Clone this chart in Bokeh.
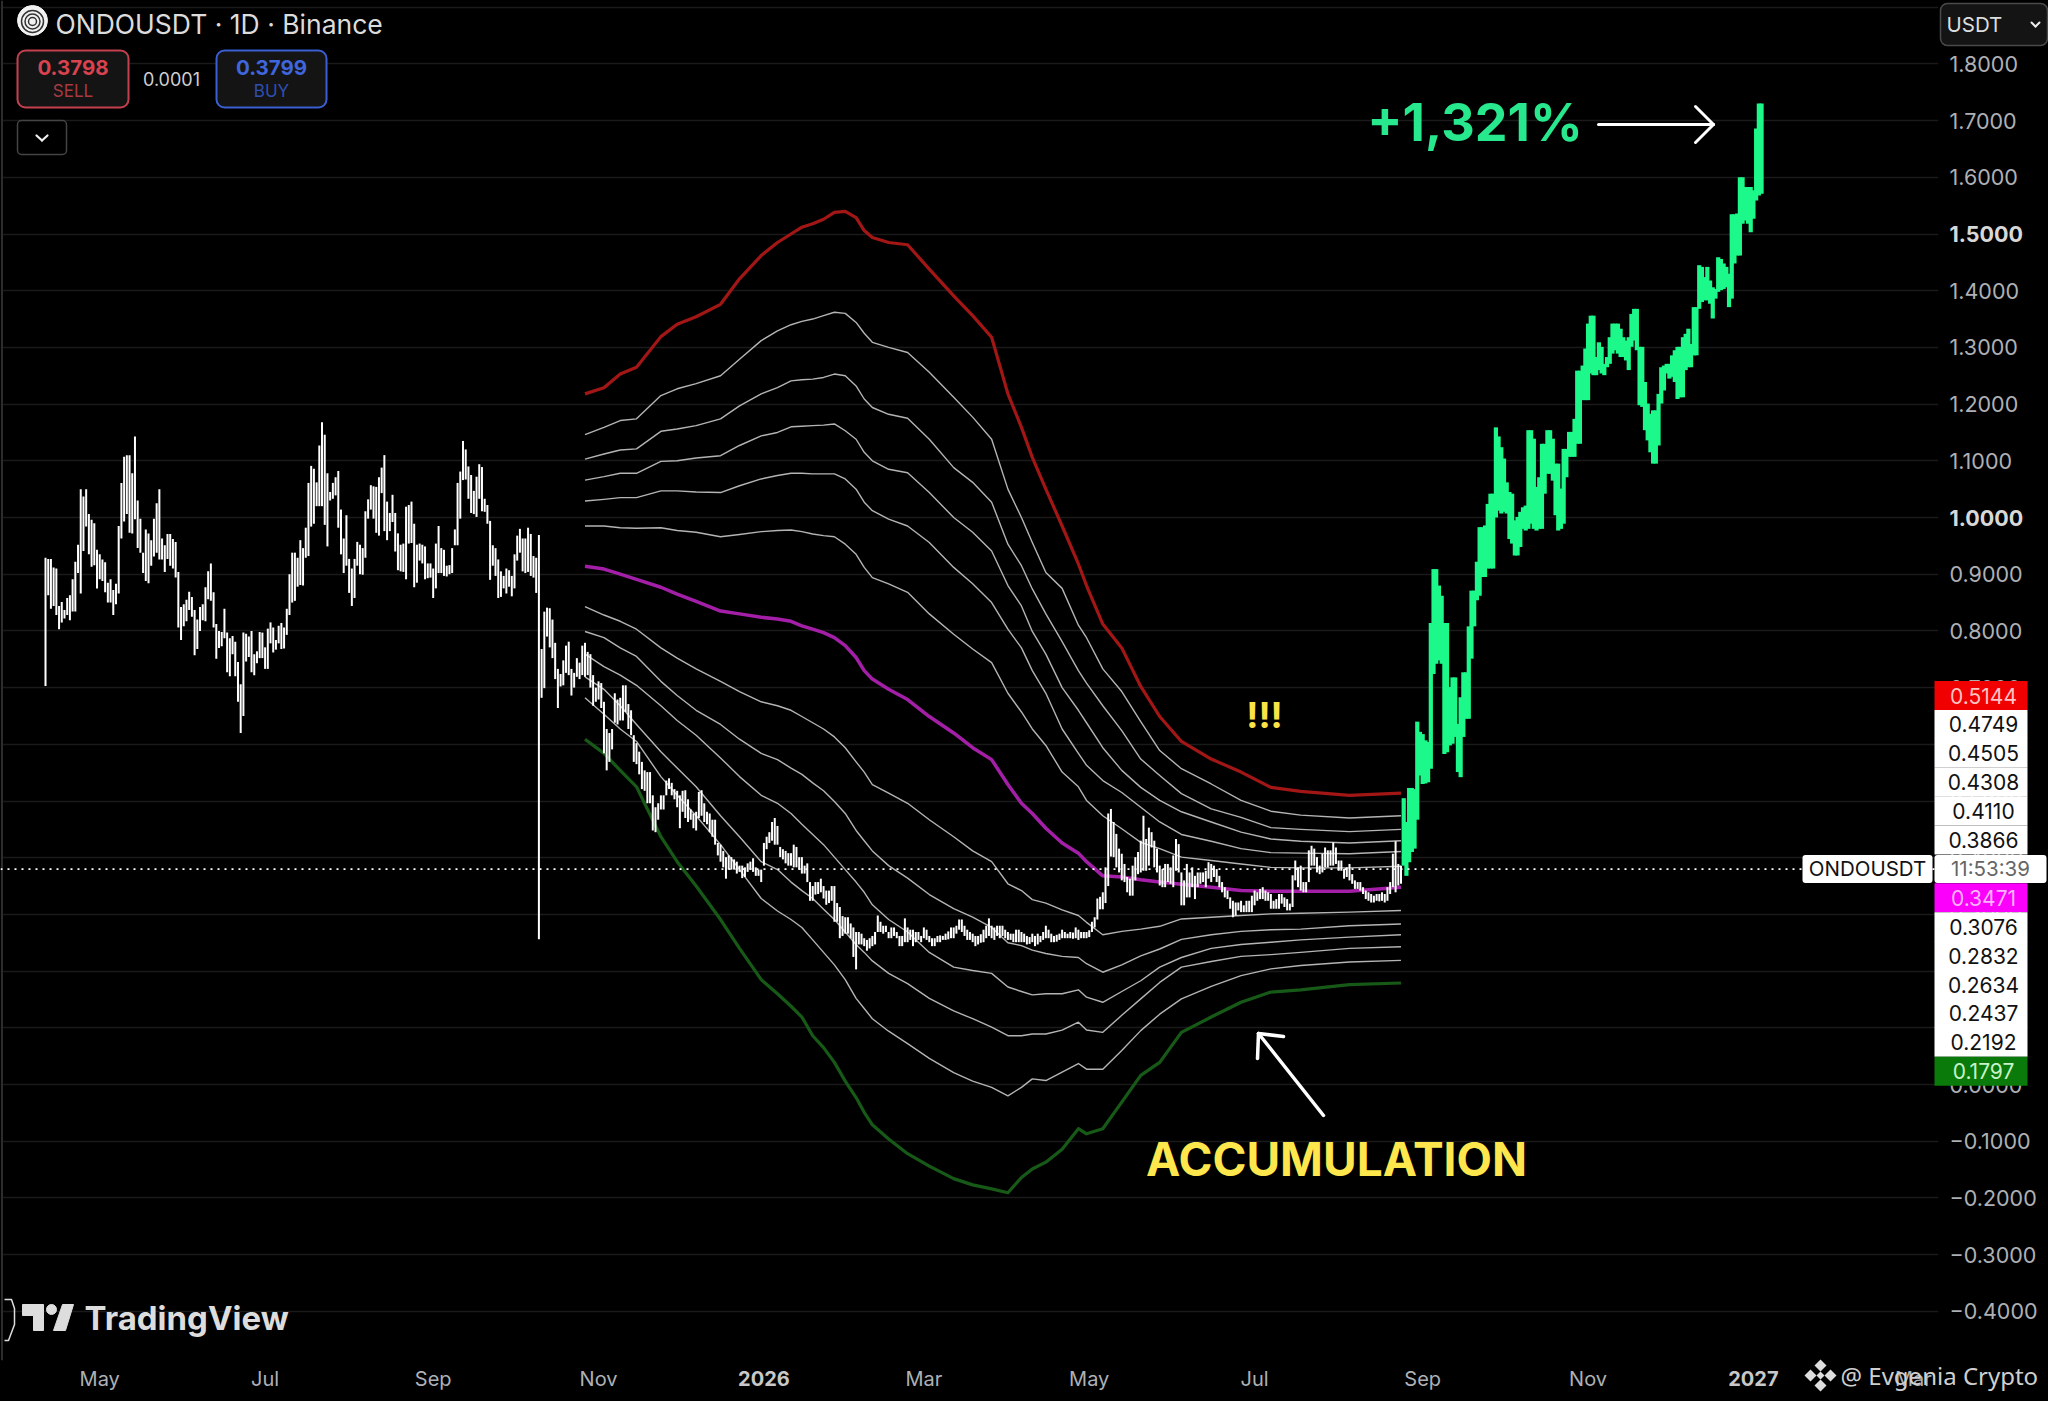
from bokeh.plotting import figure
from bokeh.embed import file_html
from bokeh.resources import INLINE
from bokeh.layouts import column
from bokeh.models import (Label, BoxAnnotation, Arrow, Span, PolyAnnotation, FixedTicker,
                          GlobalInlineStyleSheet)
import pandas as pd

# ---------- values ----------
start_date = pd.Timestamp("2025-04-11")
month_ticks = ["2025-05-01", "2025-07-01", "2025-09-01", "2025-11-01", "2026-01-01", "2026-03-01",
               "2026-05-01", "2026-07-01", "2026-09-01", "2026-11-01", "2027-01-01", "2027-03-01"]
month_labels = ["May", "Jul", "Sep", "Nov", "2026", "Mar", "May", "Jul", "Sep", "Nov", "2027", "Mar"]
bold_months = ["2026", "2027"]
price_ticks = [1.8, 1.7, 1.6, 1.5, 1.4, 1.3, 1.2, 1.1, 1.0, 0.9, 0.8, 0.7, 0.6, 0.5, 0.4, 0.3, 0.2, 0.1, 0.0,
               -0.1, -0.2, -0.3, -0.4]
grid_ticks = [1.9] + price_ticks
bold_prices = [1.5, 1.0]
last_price = 0.3798

# (high, low) of each daily bar, white part of the chart
white_bars_a = [(.929,.703),(.927,.863),(.927,.839),(.912,.844),(.910,.828),(.844,.803),(.851,.815),(.837,.822),(.858,.828),(.863,.819),
(.891,.834),(.922,.834),(.952,.902),(1.05,.866),(1.037,.941),(1.05,.984),(1.006,.935),(.996,.913),(.99,.916),(.943,.875),
(.935,.891),(.926,.888),(.921,.868),(.885,.85),(.891,.85),(.872,.828),(.883,.847),(.985,.866),(1.061,.963),(1.107,.993),
(1.11,1.006),(1.11,.973),(1.078,.972),(1.143,.997),(1.03,.946),(.998,.938),(.938,.902),(.979,.888),(.972,.884),(.96,.915),
(.998,.931),(1.025,.938),(1.05,.926),(.963,.926),(.951,.904),(.971,.927),(.971,.915),(.962,.91),(.957,.894),(.904,.806),
(.842,.784),(.847,.808),(.855,.817),(.869,.837),(.86,.825),(.837,.757),(.82,.768),(.842,.8),(.847,.819),(.877,.817),
(.905,.856),(.919,.853),(.868,.806),(.812,.751),(.8,.77),(.798,.773),(.839,.787),(.797,.727),(.787,.72),(.791,.759),
(.781,.72),(.745,.675),(.706,.62),(.797,.65),(.795,.746),(.79,.754),(.8,.727),(.759,.722),(.764,.743),(.798,.752),
(.797,.752),(.771,.733),(.804,.733),(.815,.778),(.806,.762),(.784,.767),(.809,.778),(.814,.768),(.806,.769),(.839,.793),
(.9,.828),(.938,.85),(.938,.853),(.929,.878),(.96,.881),(.946,.88),(.982,.929),(1.061,.932),(1.091,.984),(1.086,.989),
(1.062,1.02),(1.127,1.02),(1.168,1.02),(1.146,.987),(1.078,.949),(1.045,1.03),(1.061,1.033),(1.071,1.039),(1.082,.982),(1.014,.935),
(.963,.902),(1.004,.915),(.927,.867),(.91,.844),(.927,.858),(.957,.915),(.952,.9),(.946,.899),(1.011,.929),(1.032,.998),
(1.057,1.014),(1.055,.998),(1.054,.973),(1.071,.968),(1.088,1.043),(1.11,.976),(1.028,.96),(1.008,.976),(1.04,.992),(1.008,.94),
(.972,.907),(.952,.905),(.954,.904),(1.019,.891),(1.022,.954),(1.028,.955),(.989,.877),(.952,.885),(.954,.924),(.952,.919),
(.949,.891),(.919,.893),(.919,.894),(.91,.858),(.954,.875),(.985,.902),(.946,.902),(.943,.897),(.915,.896),(.916,.9),
(.946,.902),(.979,.951),(1.061,.951),(1.081,.998),(1.135,1.066),(1.12,1.067),(1.09,1.033),(1.075,1.008),(1.047,1.006),(1.072,1.001),
(1.094,1.033),(1.089,1.011),(1.033,1.01),(1.022,.989),(.994,.89),(.951,.915),(.946,.897),(.926,.858),(.905,.86),(.897,.875),
(.91,.866),(.907,.878),(.897,.861),(.935,.875),(.968,.924),(.98,.938),(.963,.905),(.963,.902),(.982,.904),(.971,.897),
(.932,.894),(.929,.867),(.969,.256),(.768,.682),(.834,.699),(.841,.79),(.84,.771),(.82,.752),(.779,.715),(.733,.664),(.724,.702)]
white_bars_b = [(.748,.704),(.774,.726),(.781,.722),(.733,.686),(.726,.7),(.752,.719),(.744,.715),(.774,.722),(.779,.719),(.763,.722),
(.759,.7),(.722,.668),(.7,.675),(.711,.679),(.708,.664),(.675,.584),(.627,.554),(.62,.569),(.627,.591),(.69,.638),
(.679,.635),(.682,.642),(.704,.642),(.704,.657),(.671,.627),(.66,.616),(.616,.569),(.602,.565),(.587,.547),(.569,.521),
(.554,.518),(.551,.496),(.551,.496),(.51,.448),(.489,.445),(.496,.467),(.51,.485),(.51,.485),(.536,.51),(.54,.521),
(.532,.51),(.521,.503),(.518,.489),(.51,.452),(.518,.481),(.519,.47),(.503,.463),(.485,.467),(.478,.452),(.481,.448),
(.516,.47),(.519,.474),(.496,.463),(.481,.459),(.478,.445),(.467,.437),(.467,.423),(.426,.404),(.423,.393),(.412,.383),
(.401,.363),(.404,.379),(.401,.379),(.397,.379),(.393,.372),(.386,.375),(.386,.364),(.383,.366),(.39,.375),(.393,.379),
(.399,.375),(.383,.368),(.379,.368),(.379,.357),(.426,.386),(.437,.415),(.445,.426),(.463,.43),(.47,.423),(.456,.423),
(.419,.401),(.415,.397),(.412,.39),(.408,.386),(.408,.386),(.423,.383),(.419,.383),(.401,.379),(.401,.372),(.386,.372),
(.39,.357),(.357,.324),(.35,.324),(.357,.335),(.357,.336),(.363,.339),(.35,.328),(.342,.317),(.342,.32),(.35,.324),
(.35,.287),(.32,.287),(.313,.258),(.297,.262),(.295,.266),(.295,.266),(.284,.258),(.277,.225),(.269,.203)]
white_bars_c = [(.269,.247),(.266,.247),(.258,.244),(.255,.236),(.258,.24),(.262,.244),(.269,.247),(.298,.269),(.287,.269),(.28,.266),
(.28,.269),(.269,.258),(.277,.258),(.277,.262),(.269,.258),(.262,.244),(.262,.244),(.293,.251),(.277,.251),(.273,.255),
(.273,.244),(.269,.251),(.269,.255),(.262,.251),(.277,.258),(.273,.255),(.262,.251),(.258,.244),(.258,.244),(.262,.251),
(.263,.251),(.262,.255),(.266,.255),(.27,.256),(.277,.258),(.277,.258),(.28,.266),(.291,.273),(.291,.269),(.28,.262),
(.273,.255),(.269,.255),(.266,.251),(.262,.244),(.262,.247),(.265,.25),(.273,.251),(.28,.258),(.293,.262),(.28,.258),
(.277,.255),(.28,.262),(.28,.258),(.28,.262),(.273,.258),(.269,.255),(.266,.255),(.266,.251),(.273,.251),(.273,.251),
(.269,.251),(.266,.251),(.262,.247),(.26,.248),(.266,.251),(.262,.244),(.266,.247),(.262,.251),(.269,.255),(.28,.258),
(.273,.258),(.266,.251),(.262,.251),(.264,.252),(.266,.255),(.273,.258),(.269,.258),(.266,.258),(.269,.258),(.268,.257),
(.277,.258),(.273,.255),(.269,.258),(.269,.258),(.269,.258),(.272,.26),(.287,.269),(.295,.277),(.328,.291),(.331,.309),
(.339,.309),(.383,.32),(.478,.35)]
white_bars_d = [(.486,.402),(.463,.401),(.442,.383),(.416,.374),(.407,.36),(.389,.357),(.366,.339),(.363,.333),(.386,.333),
(.401,.36),(.41,.371),(.43,.374),(.474,.377),(.433,.377),(.453,.386),(.445,.418),(.43,.383),(.416,.374),(.386,.351),
(.38,.348),(.389,.348),(.389,.357),(.383,.354),(.404,.348),(.433,.377),(.424,.374),(.374,.316),(.36,.316),(.389,.33),
(.374,.33),(.383,.348),(.368,.327),(.374,.348),(.374,.354),(.374,.357),(.377,.348),(.392,.363),(.389,.357),(.386,.366),
(.38,.357),(.368,.348),(.357,.339),(.348,.33),(.342,.327),(.33,.31),(.324,.295),(.321,.298),(.321,.307),(.324,.304),
(.316,.304),(.324,.304),(.324,.304),(.333,.304),(.342,.316),(.339,.324),(.345,.327),(.348,.327),(.342,.324),(.339,.324),
(.336,.31),(.324,.31),(.327,.31),(.336,.31),(.336,.319),(.33,.313),(.327,.307),(.319,.307),(.369,.313),(.395,.36),
(.383,.348),(.386,.342),(.357,.339),(.357,.339),(.413,.357),(.421,.386),(.416,.386),(.401,.374),(.386,.371),(.407,.374),
(.418,.383),(.413,.383),(.413,.386),(.427,.386),(.418,.389),(.395,.377),(.395,.377),(.38,.363),(.383,.366),(.389,.36),
(.371,.354),(.36,.345),(.357,.345),(.357,.342),(.348,.336),(.342,.327),(.339,.324),(.336,.321),(.333,.321),(.336,.324),
(.336,.323),(.339,.324),(.336,.321),(.348,.324),(.357,.336),(.407,.348),(.429,.339),(.389,.351),(.386,.354)]
# (high, low) of each daily bar, green part of the chart
green_bars = [(.505,.386),(.463,.368),(.523,.392),(.523,.41),(.521,.416),(.64,.467),(.622,.545),(.618,.53),(.607,.531),(.604,.533),
(.814,.557),(.909,.724),(.909,.742),(.88,.748),(.862,.742),(.814,.583),(.814,.586),(.701,.598),(.718,.601),(.718,.613),
(.636,.551),(.683,.542),(.727,.613),(.727,.645),(.808,.645),(.871,.751),(.871,.808),(.922,.854),(.983,.862),(.983,.895),
(.986,.895),(1.024,.91),(1.042,.91),(1.042,.91),(1.159,1.0),(1.143,1.012),(1.124,1.007),(1.104,1.01),(1.062,1.007),(1.045,.962),
(1.042,.954),(.995,.933),(1.001,.933),(1.01,.948),(1.018,.98),(1.021,.977),(1.154,.98),(1.154,.989),(1.139,.98),(1.054,.977),
(1.071,.98),(1.13,.98),(1.13,1.042),(1.154,1.077),(1.154,1.077),(1.139,1.065),(1.095,1.004),(1.095,.977),(1.051,.98),(1.121,.989),
(1.121,1.071),(1.151,1.107),(1.151,1.107),(1.174,1.107),(1.259,1.13),(1.259,1.13),(1.268,1.207),(1.298,1.207),(1.342,1.207),(1.356,1.254),
(1.356,1.251),(1.283,1.251),(1.309,1.26),(1.301,1.254),(1.271,1.251),(1.283,1.265),(1.318,1.271),(1.342,1.289),(1.342,1.295),(1.342,1.289),
(1.333,1.283),(1.318,1.283),(1.312,1.277),(1.318,1.26),(1.359,1.301),(1.368,1.312),(1.368,1.295),(1.301,1.198),(1.301,1.195),(1.239,1.154),
(1.201,1.136),(1.183,1.115),(1.189,1.095),(1.189,1.095),(1.218,1.127),(1.265,1.201),(1.268,1.224),(1.271,1.254),(1.271,1.245),(1.286,1.248),
(1.295,1.239),(1.301,1.209),(1.301,1.212),(1.318,1.212),(1.324,1.26),(1.333,1.265),(1.306,1.265),(1.371,1.286),(1.371,1.286),(1.445,1.368),
(1.442,1.38),(1.424,1.383),(1.442,1.383),(1.418,1.377),(1.406,1.351),(1.403,1.386),(1.459,1.398),(1.456,1.401),(1.448,1.403),(1.442,1.406),
(1.43,1.371),(1.535,1.386),(1.535,1.448),(1.536,1.462),(1.6,1.462),(1.6,1.518),(1.583,1.524),(1.583,1.518),(1.583,1.503),(1.577,1.527),
(1.686,1.559),(1.73,1.568),(1.73,1.571)]

# Bands: values read at the same bar numbers
band_days = [199,206,212,218,227,233,240,249,256,264,270,275,279,283,287,291,295,299,302,305,311,318,326,335,342,349,355,360,364,369,375,381,384,390,397,404,411,419,430,441,452,463,481,500]
band_red = [1.218,1.229,1.253,1.265,1.319,1.341,1.354,1.376,1.421,1.462,1.485,1.5,1.512,1.518,1.526,1.538,1.54,1.529,1.506,1.494,1.485,1.481,1.438,1.391,1.356,1.318,1.218,1.159,1.106,1.05,.985,.918,.88,.812,.77,.702,.649,.605,.574,.551,.524,.517,.51,.514]
band_up1 = [1.146,1.159,1.171,1.174,1.215,1.227,1.236,1.25,1.279,1.312,1.329,1.34,1.346,1.35,1.356,1.362,1.36,1.344,1.325,1.309,1.3,1.291,1.256,1.212,1.177,1.138,1.05,1.0,.956,.903,.875,.81,.788,.733,.693,.64,.589,.557,.53,.501,.482,.475,.47,.474]
band_up2 = [1.103,1.112,1.119,1.121,1.152,1.156,1.162,1.174,1.197,1.218,1.229,1.241,1.243,1.244,1.247,1.253,1.25,1.232,1.209,1.194,1.182,1.175,1.138,1.088,1.062,1.027,.953,.915,.874,.83,.781,.73,.708,.668,.624,.574,.545,.513,.486,.471,.453,.45,.446,.45]
band_up3 = [1.066,1.072,1.078,1.078,1.099,1.1,1.105,1.109,1.127,1.144,1.15,1.16,1.161,1.162,1.163,1.165,1.153,1.138,1.115,1.1,1.085,1.079,1.044,1.0,.974,.941,.88,.844,.799,.759,.7,.66,.638,.594,.554,.524,.501,.481,.463,.445,.433,.429,.426,.43]
band_up4 = [1.029,1.032,1.035,1.035,1.047,1.047,1.045,1.044,1.056,1.068,1.074,1.078,1.078,1.077,1.077,1.077,1.068,1.05,1.027,1.012,.997,.985,.956,.912,.883,.85,.803,.77,.73,.69,.627,.584,.563,.536,.515,.489,.463,.441,.429,.416,.409,.408,.407,.411]
band_up5 = [.985,.985,.982,.981,.982,.977,.974,.966,.97,.975,.977,.978,.975,.971,.968,.966,.953,.935,.912,.894,.883,.868,.83,.794,.768,.744,.69,.657,.627,.598,.551,.525,.501,.474,.451,.427,.416,.401,.395,.389,.383,.382,.382,.385]
band_mid = [.914,.909,.9,.891,.877,.865,.852,.835,.83,.824,.821,.817,.809,.803,.797,.788,.774,.753,.73,.715,.697,.679,.649,.62,.594,.573,.529,.496,.478,.452,.426,.408,.393,.368,.366,.361,.357,.353,.348,.342,.341,.341,.341,.348]
band_lo1 = [.843,.828,.817,.803,.77,.752,.733,.711,.693,.675,.668,.66,.649,.638,.627,.613,.594,.569,.551,.529,.514,.496,.467,.437,.412,.393,.354,.342,.326,.32,.308,.298,.286,.264,.27,.274,.279,.292,.295,.298,.301,.302,.304,.307]
band_lo2 = [.799,.788,.77,.755,.711,.686,.66,.635,.609,.584,.573,.558,.547,.532,.518,.499,.478,.448,.43,.412,.386,.364,.335,.31,.295,.277,.25,.245,.237,.231,.226,.224,.213,.198,.211,.227,.239,.256,.264,.27,.273,.274,.28,.283]
band_lo3 = [.759,.737,.722,.704,.668,.642,.616,.576,.543,.51,.496,.478,.459,.441,.423,.401,.379,.357,.339,.317,.291,.269,.233,.207,.201,.196,.172,.164,.158,.16,.16,.167,.154,.145,.164,.183,.207,.224,.24,.247,.251,.255,.26,.264]
band_lo4 = [.719,.697,.668,.635,.587,.558,.525,.474,.437,.393,.379,.357,.342,.328,.309,.291,.269,.247,.233,.218,.196,.178,.152,.13,.116,.101,.086,.086,.089,.089,.096,.11,.096,.092,.122,.151,.18,.207,.217,.226,.229,.233,.24,.243]
band_lo5 = [.682,.653,.627,.605,.543,.51,.474,.423,.379,.328,.306,.291,.277,.255,.233,.211,.185,.152,.134,.116,.094,.072,.046,.021,.006,-.005,-.02,-.005,.01,.007,.022,.037,.027,.027,.06,.095,.124,.151,.173,.192,.204,.21,.216,.219]
band_green = [.609,.584,.554,.525,.437,.393,.35,.291,.24,.185,.16,.138,.119,.086,.065,.039,.006,-.023,-.049,-.071,-.096,-.122,-.144,-.166,-.177,-.184,-.191,-.164,-.149,-.137,-.114,-.078,-.087,-.078,-.031,.016,.039,.092,.119,.145,.163,.167,.176,.179]

band_tags = ["0.5144", "0.4749", "0.4505", "0.4308", "0.4110", "0.3866", "11:53:39", "0.3471",
             "0.3076", "0.2832", "0.2634", "0.2437", "0.2192", "0.1797"]

# ---------- layout ----------
W, H = 2048, 1401
FRAME_R, FRAME_B = 1938, 1360
BAR0, BAR_STEP = 45.0, 2.711
ZERO_Y, UNIT_Y = 1084.0, 567.0
def dx(px): return (px - BAR0) / BAR_STEP
def dy(py): return (ZERO_Y - py) / UNIT_Y

FONT = "Inter"
AXIS_COL = "#aeb0b5"

p = figure(width=W, height=H, output_backend="svg", toolbar_location=None, frame_align=False,
           x_range=(dx(0), dx(FRAME_R)), y_range=(dy(FRAME_B), dy(0)),
           y_axis_location="right", min_border_left=0, min_border_top=0,
           min_border_right=W - FRAME_R, min_border_bottom=H - FRAME_B,
           background_fill_color="#000000", border_fill_color="#000000", outline_line_color=None)
p.stylesheets = [GlobalInlineStyleSheet(css="html,body{margin:0!important;padding:0;background:#000!important;overflow:hidden}")]

p.xgrid.visible = False
p.ygrid.ticker = FixedTicker(ticks=grid_ticks)
p.ygrid.grid_line_color = "#1a1a1a"
p.ygrid.grid_line_width = 1.3

tick_days = [(pd.Timestamp(d) - start_date).days for d in month_ticks]
xa = p.xaxis[0]
xa.ticker = FixedTicker(ticks=tick_days)
xa.major_label_overrides = {d: ("" if t in bold_months else t) for d, t in zip(tick_days, month_labels)}
xa.major_label_text_color = AXIS_COL
xa.major_label_text_font = FONT
xa.major_label_text_font_size = "20px"
xa.major_label_standoff = 6
ya = p.yaxis[0]
ya.ticker = FixedTicker(ticks=price_ticks)
def fmt(v):
    return ("\u2212" if v < 0 else "") + f"{abs(v):.4f}"
ya.major_label_overrides = {v: ("" if v in bold_prices else fmt(v)) for v in price_ticks}
ya.major_label_text_color = AXIS_COL
ya.major_label_text_font = FONT
ya.major_label_text_font_size = "21.5px"
ya.major_label_standoff = 11
for a in (xa, ya):
    a.axis_line_color = None
    a.major_tick_line_color = None
    a.minor_tick_line_color = None
    a.major_tick_out = 0
    a.major_tick_in = 0

# bands
for vals in (band_up1, band_up2, band_up3, band_up4, band_up5, band_lo1, band_lo2, band_lo3, band_lo4, band_lo5):
    p.line(band_days, vals, line_color="#b4b4b4", line_width=1.4, line_join="round")
p.line(band_days, band_red, line_color="#a31616", line_width=3.2, line_join="round")
p.line(band_days, band_mid, line_color="#a41fa8", line_width=3.5, line_join="round")
p.line(band_days, band_green, line_color="#175a17", line_width=3.2, line_join="round")

# bars
white = white_bars_a + white_bars_b + white_bars_c + white_bars_d
wx = list(range(len(white)))
p.segment(wx, [b[0] for b in white], wx, [b[1] for b in white], line_color="#ffffff", line_width=2)
gx = [501 + i for i in range(len(green_bars))]
p.segment(gx, [b[0] for b in green_bars], gx, [b[1] for b in green_bars], line_color="#1cf98a", line_width=4.2)

# left edge line and dotted last-price line
p.add_layout(Span(location=dx(1.5), dimension="height", line_color="#2c2c2c", line_width=2))
p.add_layout(Span(location=last_price, dimension="width", line_color="#ffffff", line_width=1.6, line_dash="2 5"))

# ---------- transparent top sheet, in page pixels, for the labels and tags ----------
q = figure(width=W, height=H, output_backend="svg", toolbar_location=None, frame_align=False,
           x_range=(0, W), y_range=(H, 0), x_axis_type=None, y_axis_type=None,
           min_border=0, outline_line_color=None, background_fill_color=None, border_fill_color=None,
           styles={"position": "absolute", "left": "0px", "top": "0px"})
q.xgrid.visible = False
q.ygrid.visible = False

def stroke(x0, y0, x1, y1, color="#ffffff", w=3.0):
    q.add_layout(Arrow(end=None, x_start=x0, y_start=y0, x_end=x1, y_end=y1,
                       line_color=color, line_width=w, line_cap="round"))
def box(x0, y0, x1, y1, fill, line=None, lw=1.5, r=0):
    q.add_layout(BoxAnnotation(left=x0, right=x1, top=y0, bottom=y1, fill_color=fill, fill_alpha=1,
                               line_color=line, line_alpha=1, line_width=lw, border_radius=r, level="annotation"))
def text(x, y, s, size, color, bold=False, align="center", font=FONT):
    q.add_layout(Label(x=x, y=y, text=s, text_font=font, text_font_size=f"{size}px", text_color=color,
                       text_font_style="bold" if bold else "normal", text_align=align, text_baseline="middle"))

# bold axis labels
for v in bold_prices:
    text(1949, ZERO_Y - v * UNIT_Y, fmt(v), 21.5, "#d8d8d8", True, "left")
for d, t in zip(tick_days, month_labels):
    if t in bold_months:
        text(BAR0 + d * BAR_STEP, 1378, t, 20, "#c8c8c8", True)

# price tags
tag_colors = {"0.5144": ("#f00000", "#ffc4c4"), "0.3471": ("#fb00fb", "#ffb4ff"), "0.1797": ("#0a7a0a", "#c8f2c8")}
for n, t in enumerate(band_tags):
    yc = 695 + n * 28.9
    if t == "11:53:39":
        box(1802, yc - 14, 1932, yc + 14, "#ffffff", r=3)
        text(1867, yc, "ONDOUSDT", 20.5, "#111111")
        box(1934, yc - 14, 2046, yc + 14, "#ffffff", r=3)
        text(1990, yc, t, 20.5, "#666666")
    else:
        fill, col = tag_colors.get(t, ("#ffffff", "#111111"))
        box(1934, yc - 14.5, 2027, yc + 14.5, fill)
        text(1983, yc, t, 21, col)

# header
q.scatter([32], [20], size=30, color="#f2f2f2")
for s in (22, 15, 8):
    q.scatter([32], [21], size=s, fill_alpha=0, line_color="#333333", line_width=1.5)
text(55, 23, "ONDOUSDT \u00b7 1D \u00b7 Binance", 26.5, "#dcdcdc", align="left")
box(17, 50, 128, 107, "#141414", "#c5404f", 2, 8)
text(72.5, 67, "0.3798", 20.5, "#d9434f", True)
text(72.5, 90, "SELL", 17, "#a83a42")
text(171, 78, "0.0001", 18, "#cfcfcf")
box(216, 50, 326, 107, "#141414", "#3a5fd0", 2, 8)
text(271, 67, "0.3799", 20.5, "#3f66dd", True)
text(271, 90, "BUY", 17, "#2f4eb0")
box(17, 120, 66, 154, "#000000", "#444444", 1.5, 4)
stroke(36, 135, 41.5, 140, "#f0f0f0", 2.2)
stroke(41.5, 140, 47, 135, "#f0f0f0", 2.2)

# currency selector
box(1940, 3, 2047, 45, "#141414", "#4a4a4a", 1.5, 7)
text(1946, 24, "USDT", 20.5, "#dddddd", align="left")
stroke(2031, 22, 2035, 26, "#eeeeee", 2)
stroke(2035, 26, 2039, 22, "#eeeeee", 2)

# call-outs
text(1474.5, 122, "+1,321%", 52, "#27e88d", True)
stroke(1598, 124, 1713, 124, "#ffffff", 3)
stroke(1695, 106, 1713, 124, "#ffffff", 3)
stroke(1695, 142, 1713, 124, "#ffffff", 3)
text(1264, 714, "!!!", 36, "#fbe347", True)
text(1336, 1158, "ACCUMULATION", 46, "#fde74c", True)
stroke(1323, 1115, 1258, 1033, "#ffffff", 3.5)
stroke(1258, 1033, 1283, 1036, "#ffffff", 3.5)
stroke(1258, 1033, 1257, 1058, "#ffffff", 3.5)

# TradingView mark
q.patch([22, 43, 43, 33, 33, 22], [1304, 1304, 1330, 1330, 1315, 1315], color="#dddddd")
q.patch([62, 73, 65, 53], [1304, 1304, 1330, 1330], color="#dddddd")
q.scatter([51], [1309], size=10, color="#dddddd")
text(84, 1317, "TradingView", 33, "#dddddd", True, "left")
q.line([4, 11, 14, 14, 8, 4], [1299, 1299, 1308, 1324, 1340, 1340], line_color="#dddddd", line_width=1.5)

# watermark
for cx, cy in ((1820, 1365), (1820, 1385), (1810, 1375), (1830, 1375), (1820, 1375)):
    r = 6 if (cx, cy) != (1820, 1375) else 4
    q.add_layout(PolyAnnotation(xs=[cx, cx + r, cx, cx - r], ys=[cy - r, cy, cy + r, cy],
                                fill_color="#dedede", fill_alpha=1, line_color=None))
text(1840, 1375, "@ Evgenia Crypto", 24, "#cfcfcf", align="left", font="Noto Sans")

page = column(p, q, styles={"position": "relative"})
open("out.html", "w").write(file_html(page, INLINE))
